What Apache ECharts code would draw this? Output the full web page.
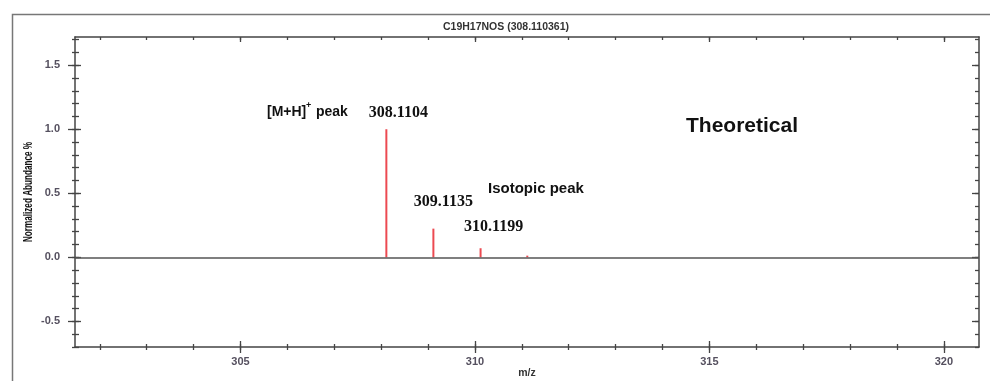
<!DOCTYPE html>
<html>
<head>
<meta charset="utf-8">
<script src="https://cdn.jsdelivr.net/npm/echarts@6/dist/echarts.min.js"></script>
<style>
  html, body { margin: 0; padding: 0; background: #fff; }
  #chart { width: 990px; height: 381px; }
</style>
</head>
<body>
<div id="chart"></div>
<script>
// Theoretical isotope pattern of C19H17NOS [M+H]+
const peakMz = [308.1104, 309.1135, 310.1199, 311.1162];
const peakAbundance = [1.0, 0.224, 0.071, 0.013];
const peakLabelled = [true, true, true, false];

const xMinorTicks = [302, 303, 304, 305, 306, 307, 308, 309, 310, 311, 312, 313, 314, 315, 316, 317, 318, 319, 320];
const xTickLabels = [305, 310, 315, 320];
const yMinorTicks = [-0.7, -0.6, -0.5, -0.4, -0.3, -0.2, -0.1, 0, 0.1, 0.2, 0.3, 0.4, 0.5, 0.6, 0.7, 0.8, 0.9, 1.0, 1.1, 1.2, 1.3, 1.4, 1.5, 1.6, 1.7];
const yTickLabels = [-0.5, 0, 0.5, 1.0, 1.5];

const X_MIN = 301.47, X_MAX = 320.75;
const Y_MIN = -0.7, Y_MAX = 1.72;

const AXIS_COLOR = '#444';
const PEAK_COLOR = '#ec4a51';
const SANS = "'Liberation Sans', Arial, sans-serif";
const SERIF = "'Liberation Serif', 'Times New Roman', serif";

// label offsets (px) for the mass labels above each peak
const labelOffsets = [[12, -8], [10, -19], [13, -13], [0, 0]];

function xAxisDef(opts) {
  return Object.assign({
    type: 'value', min: X_MIN, max: X_MAX, position: 'bottom',
    splitLine: { show: false },
    axisLine: { show: false, onZero: false },
    axisTick: { show: false },
    axisLabel: { show: false }
  }, opts);
}
function yAxisDef(opts) {
  return Object.assign({
    type: 'value', min: Y_MIN, max: Y_MAX, position: 'left',
    splitLine: { show: false },
    axisLine: { show: false, onZero: false },
    axisTick: { show: false },
    axisLabel: { show: false }
  }, opts);
}
const tickStyle = { color: AXIS_COLOR, width: 1.3 };

const chart = echarts.init(document.getElementById('chart'), null, { renderer: 'canvas' });

chart.setOption({
  animation: false,
  backgroundColor: '#fff',
  grid: { left: 75, top: 37, right: 11, bottom: 34, containLabel: false },
  xAxis: [
    // bottom axis: line, minor ticks (outside), labels
    xAxisDef({
      axisLine: { show: true, onZero: false, lineStyle: { color: AXIS_COLOR, width: 1.5 } },
      axisTick: { show: true, inside: false, length: 3, customValues: xMinorTicks, lineStyle: tickStyle },
      axisLabel: {
        show: true, customValues: xTickLabels, margin: 9,
        color: '#55505f', fontSize: 11, fontWeight: 'bold', fontFamily: SANS,
        formatter: v => String(v)
      }
    }),
    // bottom minor ticks (inside)
    xAxisDef({ axisTick: { show: true, inside: true, length: 3, customValues: xMinorTicks, lineStyle: tickStyle } }),
    // bottom major ticks (outside / inside)
    xAxisDef({ axisTick: { show: true, inside: false, length: 6, customValues: xTickLabels, lineStyle: tickStyle } }),
    xAxisDef({ axisTick: { show: true, inside: true, length: 6, customValues: xTickLabels, lineStyle: tickStyle } }),
    // top frame with inward ticks
    xAxisDef({
      position: 'top',
      axisLine: { show: true, onZero: false, lineStyle: { color: AXIS_COLOR, width: 1.5 } },
      axisTick: { show: true, inside: true, length: 3, customValues: xMinorTicks, lineStyle: tickStyle }
    }),
    xAxisDef({ position: 'top', axisTick: { show: true, inside: true, length: 5, customValues: xTickLabels, lineStyle: tickStyle } })
  ],
  yAxis: [
    // left axis: line, minor ticks (outside), labels
    yAxisDef({
      axisLine: { show: true, onZero: false, lineStyle: { color: AXIS_COLOR, width: 1.5 } },
      axisTick: { show: true, inside: false, length: 3, customValues: yMinorTicks, lineStyle: tickStyle },
      axisLabel: {
        show: true, customValues: yTickLabels, margin: 15,
        color: '#55505f', fontSize: 11, fontWeight: 'bold', fontFamily: SANS,
        formatter: v => v.toFixed(1)
      }
    }),
    yAxisDef({ axisTick: { show: true, inside: true, length: 4, customValues: yMinorTicks, lineStyle: tickStyle } }),
    yAxisDef({ axisTick: { show: true, inside: false, length: 7, customValues: yTickLabels, lineStyle: tickStyle } }),
    yAxisDef({ axisTick: { show: true, inside: true, length: 6, customValues: yTickLabels, lineStyle: tickStyle } }),
    // right frame with inward ticks
    yAxisDef({
      position: 'right',
      axisLine: { show: true, onZero: false, lineStyle: { color: AXIS_COLOR, width: 1.5 } },
      axisTick: { show: true, inside: true, length: 4, customValues: yMinorTicks, lineStyle: tickStyle }
    }),
    yAxisDef({ position: 'right', axisTick: { show: true, inside: true, length: 7, customValues: yTickLabels, lineStyle: tickStyle } })
  ],
  series: [{
    type: 'bar',
    xAxisIndex: 0,
    yAxisIndex: 0,
    barWidth: 2,
    itemStyle: { color: PEAK_COLOR },
    data: peakMz.map((mz, i) => ({
      value: [mz, peakAbundance[i]],
      label: {
        show: peakLabelled[i],
        position: 'top',
        distance: 0,
        offset: labelOffsets[i],
        formatter: p => p.value[0].toFixed(4),
        fontFamily: SERIF, fontWeight: 'bold', fontSize: 16, color: '#111'
      }
    })),
    markLine: {
      silent: true,
      symbol: 'none',
      label: { show: false },
      lineStyle: { color: '#555', width: 1.5, type: 'solid' },
      data: [{ yAxis: 0 }]
    }
  }],
  graphic: [
    // outer frame
    { type: 'rect', left: 10, top: 12, z: -1, shape: { x: 0, y: 0, width: 1000, height: 400 },
      style: { fill: 'none', stroke: '#777', lineWidth: 1.5 } },
    // title
    { type: 'text', x: 506, y: 27, style: { text: 'C19H17NOS (308.110361)', fill: '#333', font: "bold 10.5px " + SANS, textAlign: 'center', textVerticalAlign: 'middle' } },
    // axis names
    { type: 'text', x: 527, y: 373, style: { text: 'm/z', fill: '#333', font: "bold 10.5px " + SANS, textAlign: 'center', textVerticalAlign: 'middle' } },
    { type: 'text', x: 29, y: 192, rotation: Math.PI / 2, scaleX: 0.68,
      style: { text: 'Normalized Abundance %', fill: '#111', font: "bold 12px " + SANS, textAlign: 'center', textVerticalAlign: 'middle' } },
    // annotations
    { type: 'text', x: 267, y: 112, style: { text: '[M+H]', fill: '#111', font: "bold 14px " + SANS, textAlign: 'left', textVerticalAlign: 'middle' } },
    { type: 'text', x: 306, y: 106, style: { text: '+', fill: '#111', font: "bold 9px " + SANS, textAlign: 'left', textVerticalAlign: 'middle' } },
    { type: 'text', x: 316, y: 112, style: { text: 'peak', fill: '#111', font: "bold 14px " + SANS, textAlign: 'left', textVerticalAlign: 'middle' } },
    { type: 'text', x: 488, y: 189, style: { text: 'Isotopic peak', fill: '#111', font: "bold 15px " + SANS, textAlign: 'left', textVerticalAlign: 'middle' } },
    { type: 'text', x: 686, y: 126, style: { text: 'Theoretical', fill: '#111', font: "bold 21px " + SANS, textAlign: 'left', textVerticalAlign: 'middle' } }
  ]
});
</script>
</body>
</html>
